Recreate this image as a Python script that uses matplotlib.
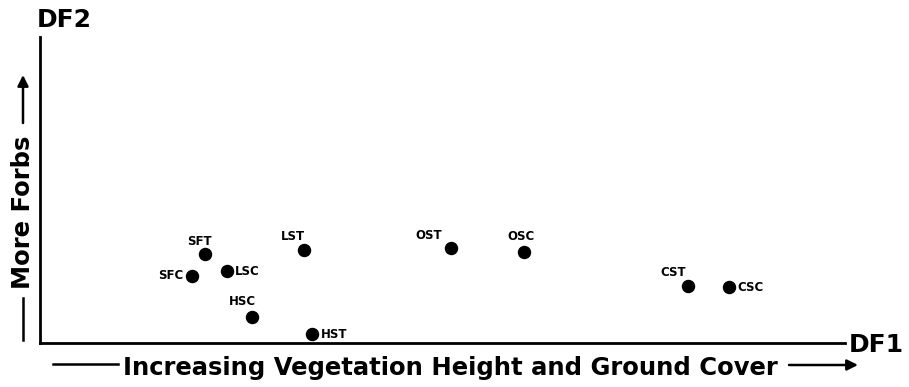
import matplotlib.pyplot as plt

plt.rcParams['font.family'] = ['DejaVu Sans']

# discriminant function scores (arbitrary 0-100 scale)
sites = ['SFT', 'SFC', 'LSC', 'HSC', 'LST', 'HST', 'OST', 'OSC', 'CST', 'CSC']
df1 = [20.5, 18.9, 23.2, 26.3, 32.8, 33.8, 51.1, 60.1, 80.5, 85.6]
df2 = [29.1, 21.9, 23.5, 8.5, 30.4, 2.9, 31.0, 29.7, 18.6, 18.3]

# label placement (offset in points, alignment)
label_pos = {
    'SFT': ((-4, 9), 'center'), 'SFC': ((-6, 0), 'right'), 'LSC': ((6, 0), 'left'),
    'HSC': ((-7, 11), 'center'), 'LST': ((-8, 10), 'center'), 'HST': ((6, 0), 'left'),
    'OST': ((-16, 9), 'center'), 'OSC': ((-2, 11), 'center'), 'CST': ((-11, 10), 'center'),
    'CSC': ((6, 0), 'left'),
}

W, H = 909, 387
fig = plt.figure(figsize=(W / 100, H / 100), dpi=100)
ax = fig.add_axes([40 / W, (H - 343) / H, 805 / W, 306 / H])
ax.scatter(df1, df2, s=75, color='black', zorder=3, clip_on=False)
for name, x, y in zip(sites, df1, df2):
    off, ha = label_pos[name]
    ax.annotate(name, (x, y), xytext=off, textcoords='offset points',
                ha=ha, va='center', fontsize=8.5, fontweight='bold')

ax.set_xlim(0, 100)
ax.set_ylim(0, 100)
ax.set_xticks([])
ax.set_yticks([])
for side in ['top', 'right']:
    ax.spines[side].set_visible(False)
for side in ['left', 'bottom']:
    ax.spines[side].set_linewidth(2)


def fy(py):
    return 1 - py / H


# axis titles
fig.text(37 / W, fy(27), 'DF2', fontsize=18, fontweight='bold', va='baseline')
fig.text(849 / W, fy(352), 'DF1', fontsize=18, fontweight='bold', va='baseline')

# x description with arrows
fig.text(123 / W, fy(375), 'Increasing Vegetation Height and Ground Cover',
         fontsize=17.5, fontweight='bold', ha='left', va='baseline')
fig.add_artist(plt.Line2D([53 / W, 118 / W], [fy(364)] * 2, color='black', lw=1.8))
ax.annotate('', xy=(858 / W, fy(365)), xytext=(789 / W, fy(365)),
            xycoords='figure fraction',
            arrowprops=dict(arrowstyle='-|>', color='black', lw=1.8,
                            mutation_scale=16, shrinkA=0, shrinkB=0))

# y description with arrows
fig.text(23 / W, fy(212), 'More Forbs', fontsize=17.5, fontweight='bold',
         rotation=90, ha='center', va='center')
fig.add_artist(plt.Line2D([23 / W] * 2, [fy(340), fy(298)], color='black', lw=1.8))
ax.annotate('', xy=(23 / W, fy(75)), xytext=(23 / W, fy(123)),
            xycoords='figure fraction',
            arrowprops=dict(arrowstyle='-|>', color='black', lw=1.8,
                            mutation_scale=16, shrinkA=0, shrinkB=0))

fig.savefig('out.png', dpi=100)
